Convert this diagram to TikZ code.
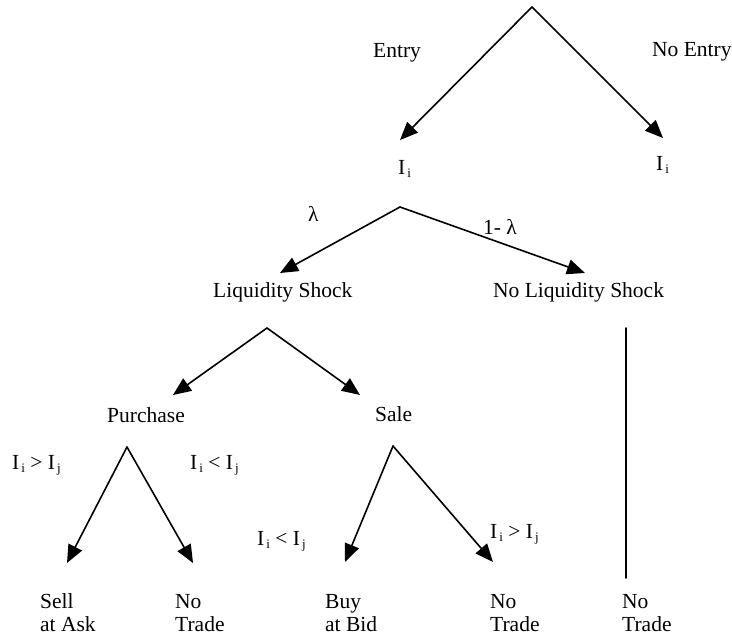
\documentclass[tikz,border=0pt]{standalone}
\usepackage{fontspec}
\setmainfont{Liberation Serif}
\usetikzlibrary{arrows.meta}
\newcommand{\sub}[1]{\kern2pt\raisebox{-3pt}{\fontsize{13}{13}\selectfont #1}}
\begin{document}
\begin{tikzpicture}[x=1pt,y=-1pt,line cap=round,line join=round,
    >={Triangle[length=18pt,width=15pt]},
    branch/.style={line width=1.6pt,->},
    lbl/.style={anchor=base west,inner sep=0pt,align=left,
      font=\fontsize{21.5}{23}\selectfont}]
  \useasboundingbox (0,0) rectangle (732,636);
  % Labels of the tree.
  \node[lbl] (entry) at (373,58) {Entry};
  \node[lbl] (noentry) at (652,57) {No Entry};
  \node[lbl] (inv) at (398,175) {I\sub{i}};
  \node[lbl] (invout) at (656,171) {I\sub{i}};
  \node[lbl] (lam) at (308,222) {λ};
  \node[lbl] (onelam) at (483,235) {1- λ};
  \node[lbl] (ls) at (213,298) {Liquidity Shock};
  \node[lbl] (nls) at (493,298) {No Liquidity Shock};
  \node[lbl] (pur) at (107,423) {Purchase};
  \node[lbl] (sale) at (375,422) {Sale};
  \node[lbl] (gt1) at (12,470) {I\sub{i} > I\sub{j}};
  \node[lbl] (lt1) at (190,470) {I\sub{i} < I\sub{j}};
  \node[lbl] (lt2) at (257,546) {I\sub{i} < I\sub{j}};
  \node[lbl] (gt2) at (490,539) {I\sub{i} > I\sub{j}};
  \node[lbl] (ask) at (40,631) {Sell\\at Ask};
  \node[lbl] (nt1) at (175,631) {No\\Trade};
  \node[lbl] (bid) at (325,631) {Buy\\at Bid};
  \node[lbl] (nt2) at (490,631) {No\\Trade};
  \node[lbl] (nt3) at (622,631) {No\\Trade};
  % Forks and arrow ends.
  \coordinate (root) at (532,7);
  \coordinate (f-inv) at (400,207);
  \coordinate (f-ls) at (267,328);
  \coordinate (f-nls) at (626,328);
  \coordinate (f-pur) at (127,447);
  \coordinate (f-sale) at (393,446);
  \coordinate (t-inv) at (400,140);
  \coordinate (t-invout) at (663,138);
  \coordinate (t-ls) at (280,273);
  \coordinate (t-nls) at (585,273);
  \coordinate (t-pur) at (173,395);
  \coordinate (t-sale) at (360,395);
  \coordinate (t-ask) at (67,563);
  \coordinate (t-nt1) at (193,563);
  \coordinate (t-bid) at (345,562);
  \coordinate (t-nt2) at (493,562);
  \coordinate (t-nt3) at (626,578);
  % Branches.
  \draw[branch] (root) -- (t-inv);
  \draw[branch] (root) -- (t-invout);
  \draw[branch] (f-inv) -- (t-ls);
  \draw[branch] (f-inv) -- (t-nls);
  \draw[branch] (f-ls) -- (t-pur);
  \draw[branch] (f-ls) -- (t-sale);
  \draw[branch] (f-pur) -- (t-ask);
  \draw[branch] (f-pur) -- (t-nt1);
  \draw[branch] (f-sale) -- (t-bid);
  \draw[branch] (f-sale) -- (t-nt2);
  \draw[line width=1.6pt] (f-nls) -- (t-nt3);
\end{tikzpicture}
\end{document}
